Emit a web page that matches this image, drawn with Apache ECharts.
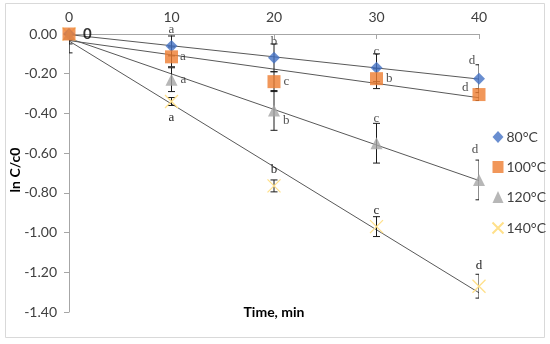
<!DOCTYPE html>
<html><head><meta charset="utf-8">
<script src="https://cdn.jsdelivr.net/npm/echarts@6/dist/echarts.min.js"></script>
<style>html,body{margin:0;padding:0;background:#fff}#c{width:550px;height:344px}</style>
</head><body><div id="c"></div>
<script>
// ---- data ----
const times = [0, 10, 20, 30, 40];
const xTicks = [0, 10, 20, 30, 40];
const yTicks = [0, -0.2, -0.4, -0.6, -0.8, -1.0, -1.2, -1.4];
const names = ['80°C', '100°C', '120°C', '140°C'];
const v80  = [0, -0.06, -0.12, -0.17, -0.225];
const v100 = [0, -0.115, -0.24, -0.225, -0.305];
const v120 = [0, -0.23, -0.385, -0.55, -0.735];
const v140 = [0, -0.34, -0.765, -0.97, -1.27];
const e80  = [0, 0.05, 0.07, 0.07, 0.07];
const e100 = [0.03, 0.05, 0.05, 0.05, 0.03];
const e120 = [0.095, 0.06, 0.1, 0.1, 0.1];
const e140 = [0.05, 0.02, 0.03, 0.05, 0.06];
const l80  = ['0', 'a', 'b', 'c', 'd'];
const l100 = ['', 'a', 'c', 'b', 'd'];
const l120 = ['', 'a', 'b', 'c', 'd'];
const l140 = ['', 'a', 'b', 'c', 'd'];

// ---- label placement (style) ----
const place = [
  [{p:'right',o:[0,0],d:8,bold:true}, {p:'top'}, {p:'top'}, {p:'top'}, {p:'top',o:[-7,-2]}],
  [null, {p:'right',d:2}, {p:'right',d:3}, {p:'right',d:3}, {p:'left',o:[0,-7],d:4}],
  [null, {p:'right',d:3}, {p:'right',o:[0,10],d:3}, {p:'top',o:[0,-8]}, {p:'top',o:[-4,-14]}],
  [null, {p:'bottom',d:1}, {p:'top',d:1}, {p:'top',d:1}, {p:'top',o:[0,-3],d:2}]
];
const values = [v80, v100, v120, v140];
const errs = [e80, e100, e120, e140];
const letters = [l80, l100, l120, l140];
const colors = ['#4472C4', '#ED7D31', '#A5A5A5', '#FFC000'];
const symbols = ['diamond', 'rect', 'triangle', 'path://M0,0L10,10M10,0L0,10'];
const sizes = [12, 13, 12, 13];
const zs = [4, 5, 4, 3];

function fit(xs, ys) {
  const n = xs.length;
  const mx = xs.reduce((a,b)=>a+b,0)/n, my = ys.reduce((a,b)=>a+b,0)/n;
  let sxy = 0, sxx = 0;
  for (let i=0;i<n;i++){ sxy += (xs[i]-mx)*(ys[i]-my); sxx += (xs[i]-mx)*(xs[i]-mx); }
  const b = sxy/sxx, a = my - b*mx;
  return [[xs[0], a + b*xs[0]], [xs[n-1], a + b*xs[n-1]]];
}

function renderErr(params, api) {
  const x = api.value(0), y = api.value(1), e = api.value(2);
  if (!e) return null;
  const t = api.coord([x, y + e]), b = api.coord([x, y - e]);
  const w = 3.5;
  const style = {stroke: '#1a1a1a', lineWidth: 1};
  return {type: 'group', children: [
    {type: 'line', shape: {x1: t[0], y1: t[1], x2: b[0], y2: b[1]}, style},
    {type: 'line', shape: {x1: t[0]-w, y1: t[1], x2: t[0]+w, y2: t[1]}, style},
    {type: 'line', shape: {x1: b[0]-w, y1: b[1], x2: b[0]+w, y2: b[1]}, style}
  ]};
}

const series = [];
values.forEach((vals, si) => {
  series.push({
    type: 'line', data: fit(times, vals), symbol: 'none', silent: true, z: 1,
    lineStyle: {color: '#595959', width: 1}
  });
});
values.forEach((vals, si) => {
  series.push({
    type: 'custom', renderItem: renderErr, z: 2, silent: true, clip: true,
    encode: {x: 0, y: 1},
    data: times.map((t, i) => [t, vals[i], errs[si][i]])
  });
});
values.forEach((vals, si) => {
  const isCross = si === 3;
  series.push({
    type: 'scatter', name: names[si], z: zs[si],
    symbol: symbols[si], symbolSize: sizes[si],
    itemStyle: isCross ? {color: 'none', borderColor: '#FFE08A', borderWidth: 1.3, opacity: 1}
                       : {color: colors[si]},
    data: times.map((t, i) => {
      const pl = place[si][i];
      const item = {value: [t, vals[i]]};
      if (pl && letters[si][i]) {
        item.label = {
          show: true, formatter: letters[si][i], position: pl.p,
          offset: pl.o || [0, 0], distance: pl.d != null ? pl.d : 4,
          fontFamily: pl.bold ? 'Lato' : 'Liberation Serif',
          fontSize: pl.bold ? 15 : 13, fontWeight: pl.bold ? 'bold' : 'normal',
          color: pl.bold ? '#000' : '#262626'
        };
      }
      return item;
    })
  });
});

const chart = echarts.init(document.getElementById('c'), null, {renderer: 'canvas'});
chart.setOption({
  animation: false,
  backgroundColor: '#fff',
  grid: {left: 69, top: 34, width: 410, height: 278, containLabel: false},
  xAxis: {
    type: 'value', position: 'top', min: xTicks[0], max: xTicks[xTicks.length-1], interval: 10,
    axisLine: {show: true, lineStyle: {color: '#a6a6a6'}},
    axisTick: {show: true, inside: true, length: 5, lineStyle: {color: '#a6a6a6'}},
    axisLabel: {color: '#404040', fontSize: 14, fontFamily: 'Lato', margin: 10},
    splitLine: {show: false}
  },
  yAxis: {
    type: 'value', min: yTicks[yTicks.length-1], max: yTicks[0], interval: 0.2,
    axisLine: {show: true, onZero: false, lineStyle: {color: '#a6a6a6'}},
    axisTick: {show: true, length: 5, lineStyle: {color: '#a6a6a6'}},
    axisLabel: {color: '#404040', fontSize: 14, fontFamily: 'Lato', margin: 12,
      formatter: v => v.toFixed(2)},
    splitLine: {show: false}
  },
  legend: {
    orient: 'vertical', left: 485, top: 125, itemWidth: 11, itemHeight: 12, itemGap: 16,
    data: names,
    textStyle: {color: '#404040', fontSize: 14, fontFamily: 'Lato', padding: [0, 0, 0, -2]}
  },
  graphic: [
    {type: 'rect', shape: {x: 5.5, y: 3.5, width: 539, height: 334}, silent: true,
     style: {fill: 'none', stroke: '#d9d9d9', lineWidth: 1}, z: -10},
    {type: 'text', x: 274, y: 312, silent: true,
     style: {text: 'Time, min', font: 'bold 14px Lato', fill: '#000', align: 'center', verticalAlign: 'middle'}},
    {type: 'text', x: 15, y: 170, rotation: Math.PI/2, silent: true,
     style: {text: 'ln C/c0', font: 'bold 14px Lato', fill: '#000', align: 'center', verticalAlign: 'middle'}}
  ],
  series
});
</script>
</body></html>
